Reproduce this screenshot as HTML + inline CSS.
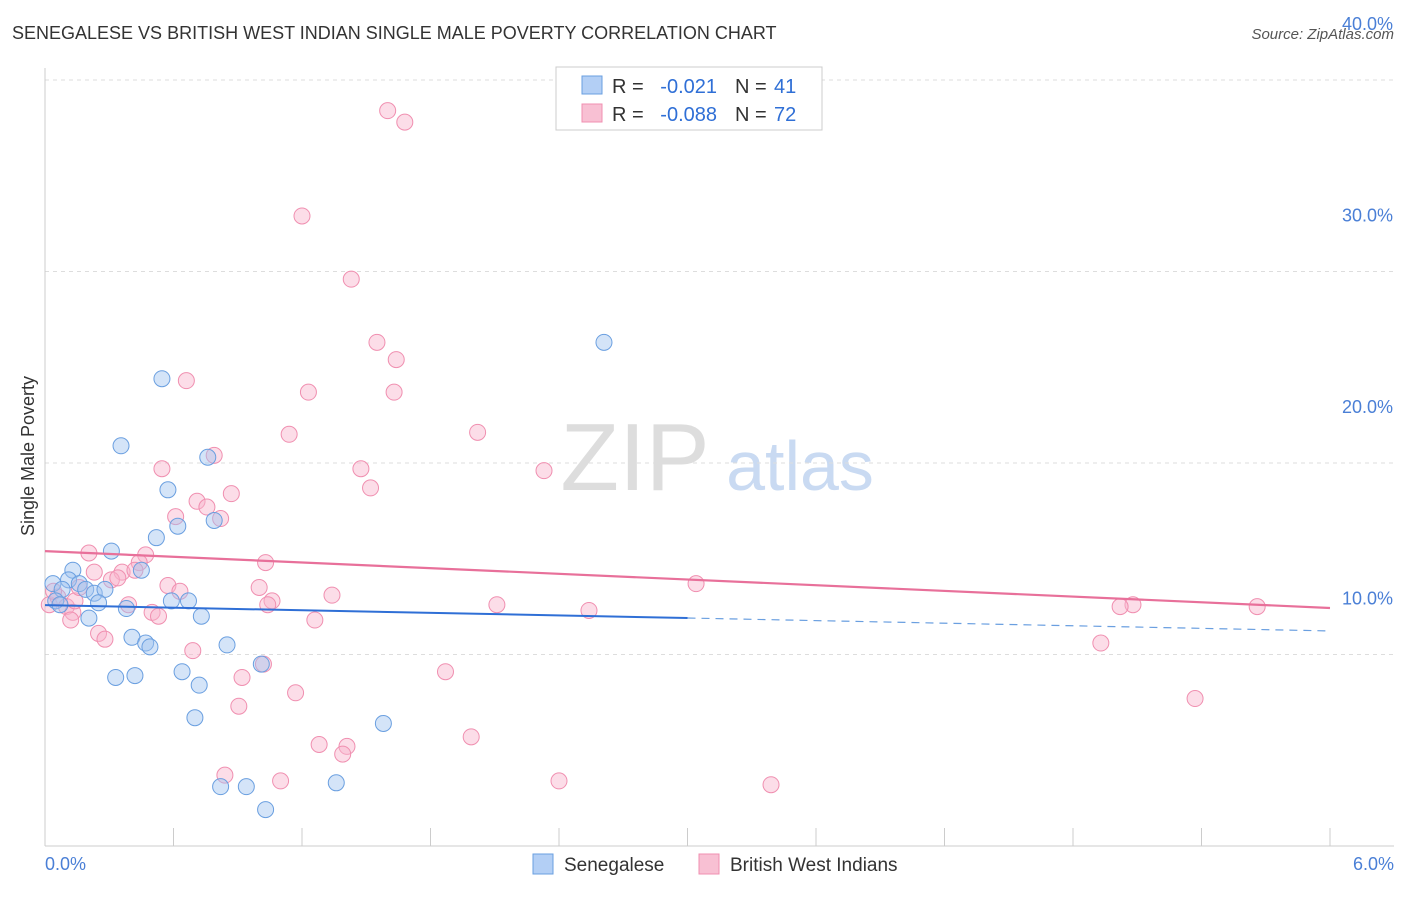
<!DOCTYPE html>
<html><head><meta charset="utf-8"><style>
body{margin:0;background:#fff;font-family:"Liberation Sans",sans-serif;}
svg text{font-family:"Liberation Sans",sans-serif;}
</style></head><body>
<svg id="chart" width="1406" height="892" viewBox="0 0 1406 892" xmlns="http://www.w3.org/2000/svg">
<text x="12" y="39" font-size="18" fill="#333">SENEGALESE VS BRITISH WEST INDIAN SINGLE MALE POVERTY CORRELATION CHART</text>
<text x="1394" y="39" font-size="15" fill="#555" text-anchor="end" font-style="italic">Source: ZipAtlas.com</text>
<g>
<text x="635" y="490" font-size="96" fill="#ddd" text-anchor="middle" font-family="Liberation Serif">ZIP</text>
<text x="800" y="490" font-size="70" fill="#c9daf2" text-anchor="middle">atlas</text>
</g>
<g id="grid"></g>
<g id="axes"></g>
<g id="marks"></g>
<g id="trends"></g>
<text transform="translate(34,456) rotate(-90)" font-size="18" fill="#333" text-anchor="middle">Single Male Poverty</text>
<g>
<rect x="556" y="67" width="266" height="63" fill="#fff" stroke="#ccc"/>
<rect x="582" y="76" width="20" height="18" fill="#b3cff5" stroke="#6a9fe0"/>
<rect x="582" y="104" width="20" height="18" fill="#f8c0d3" stroke="#f08fb0"/>
<text x="612" y="93" font-size="20" fill="#333">R =</text>
<text x="717" y="93" font-size="20" fill="#2f6fd6" text-anchor="end">-0.021</text>
<text x="735" y="93" font-size="20" fill="#333">N =</text>
<text x="774" y="93" font-size="20" fill="#2f6fd6">41</text>
<text x="612" y="121" font-size="20" fill="#333">R =</text>
<text x="717" y="121" font-size="20" fill="#2f6fd6" text-anchor="end">-0.088</text>
<text x="735" y="121" font-size="20" fill="#333">N =</text>
<text x="774" y="121" font-size="20" fill="#2f6fd6">72</text>
</g>
<g>
<rect x="533" y="854" width="20" height="20" fill="#b3cff5" stroke="#6a9fe0"/>
<text x="564" y="871" font-size="19" fill="#333">Senegalese</text>
<rect x="699" y="854" width="20" height="20" fill="#f8c0d3" stroke="#f08fb0"/>
<text x="730" y="871" font-size="19" fill="#333">British West Indians</text>
</g>
</svg>
<script>
const yTicks=[10,20,30,40];
const yTickLabels=["10.0%","20.0%","30.0%","40.0%"];
const xTickLabels=["0.0%","6.0%"];
const blueX=[2.61,0.546,0.355,0.76,0.574,0.79,0.62,0.52,0.31,0.45,0.13,0.037,0.11,0.16,0.08,0.19,0.23,0.28,0.05,0.07,0.25,0.59,0.67,0.38,0.73,0.205,0.406,0.47,0.49,0.85,1.01,0.64,0.33,0.42,0.72,0.70,1.58,0.82,0.94,1.36,1.03];
const blueY=[26.3,24.4,20.9,20.3,18.6,17.0,16.7,16.1,15.4,14.4,14.4,13.7,13.9,13.7,13.4,13.4,13.2,13.4,12.8,12.6,12.7,12.8,12.8,12.4,12.0,11.9,10.9,10.6,10.4,10.5,9.5,9.1,8.8,8.9,8.4,6.7,6.4,3.1,3.1,3.3,1.9];
const pinkX=[1.60,1.68,1.20,1.43,1.55,1.64,0.66,1.23,1.63,1.14,2.02,0.79,0.546,1.475,2.33,1.52,0.87,0.71,0.756,0.61,0.82,0.205,0.47,1.03,0.44,0.23,0.36,0.42,0.31,0.34,0.574,0.63,1.0,3.04,1.34,1.06,1.04,0.39,2.11,5.08,5.02,5.66,2.54,0.50,0.53,1.26,0.02,0.06,0.1,0.13,0.14,0.16,0.25,0.28,0.69,4.93,1.02,1.87,0.92,1.17,0.905,5.37,1.99,1.28,1.41,1.39,0.84,1.10,2.40,3.39,0.12,0.04];
const pinkY=[38.4,37.8,32.9,29.6,26.3,25.4,24.3,23.7,23.7,21.5,21.6,20.4,19.7,19.7,19.6,18.7,18.4,18.0,17.7,17.2,17.1,15.3,15.2,14.8,14.8,14.3,14.3,14.4,13.9,14.0,13.6,13.3,13.5,13.7,13.1,12.8,12.6,12.6,12.6,12.6,12.5,12.5,12.3,12.2,12.0,11.8,12.6,13.0,12.5,12.2,12.8,13.5,11.1,10.8,10.2,10.6,9.5,9.1,8.8,8.0,7.3,7.7,5.7,5.3,5.2,4.8,3.7,3.4,3.4,3.2,11.8,13.3];
const blueTrend=[12.58,11.23];
const pinkTrend=[15.40,12.43];
const NS="http://www.w3.org/2000/svg";
const X0=45,X1=1330,Y0=846,PY=19.15;
const sx=v=>X0+(X1-X0)*v/6;
const sy=v=>Y0-v*PY;
function mk(tag,attrs,parent){const e=document.createElementNS(NS,tag);for(const k in attrs)e.setAttribute(k,attrs[k]);document.getElementById(parent).appendChild(e);return e;}
yTicks.forEach((t,i)=>{
  const l=mk('line',{x1:X0,x2:1394,y1:sy(t),y2:sy(t),stroke:'#ddd','stroke-dasharray':'4,4'},'grid');
  
  
  const tx=mk('text',{x:1393,y:sy(t)-50,'font-size':18,fill:'#4a7fd6','text-anchor':'end'},'axes');
  tx.textContent=yTickLabels[i];
  
  
});
const topGrid=mk('line',{x1:X0,x2:1394,y1:80,y2:80,stroke:'#ddd','stroke-dasharray':'4,4'},'grid');


const ya=mk('line',{x1:X0,x2:X0,y1:68,y2:Y0,stroke:'#ccc'},'axes');


const xa=mk('line',{x1:X0,x2:1394,y1:Y0,y2:Y0,stroke:'#ccc'},'axes');


for(let i=0;i<=10;i++){
  const t=mk('line',{x1:sx(i*0.6),x2:sx(i*0.6),y1:828,y2:Y0,stroke:'#ccc'},'axes');
  
  
}
[[0,'start',45],[6,'end',1394]].forEach((p,i)=>{
  const tx=mk('text',{x:p[2],y:870,'font-size':18,fill:'#4a7fd6','text-anchor':p[1]},'axes');
  tx.textContent=xTickLabels[i];
  
  
});
pinkX.forEach((x,i)=>{
  const c=mk('circle',{cx:sx(x),cy:sy(pinkY[i]),r:8,fill:'rgba(248,180,205,0.45)',stroke:'#f08fb0','stroke-width':1},'marks');
  
  
});
blueX.forEach((x,i)=>{
  const c=mk('circle',{cx:sx(x),cy:sy(blueY[i]),r:8,fill:'rgba(160,195,240,0.45)',stroke:'#6a9fe0','stroke-width':1},'marks');
  
  
});
const bm=blueTrend[0]+(blueTrend[1]-blueTrend[0])*0.5;
const b1=mk('line',{x1:sx(0),y1:sy(blueTrend[0]),x2:sx(3),y2:sy(bm),stroke:'#2f6fd6','stroke-width':2},'trends');


const b2=mk('line',{x1:sx(3),y1:sy(bm),x2:sx(6),y2:sy(blueTrend[1]),stroke:'#6a9fe0','stroke-width':1.2,'stroke-dasharray':'8,6'},'trends');


const p1=mk('line',{x1:sx(0),y1:sy(pinkTrend[0]),x2:sx(6),y2:sy(pinkTrend[1]),stroke:'#e8709a','stroke-width':2.2},'trends');


</script>
</body></html>
